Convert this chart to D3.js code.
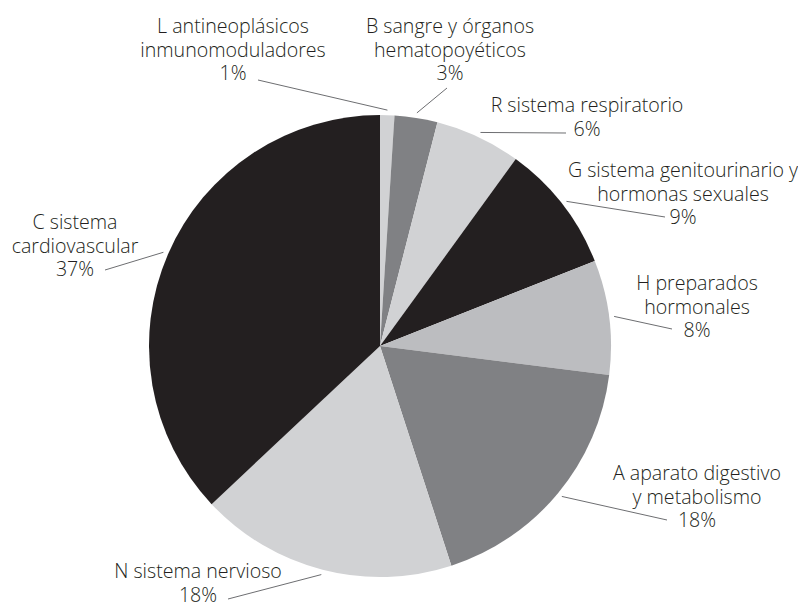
<!DOCTYPE html>
<html>
<head>
<meta charset="utf-8">
<script src="https://cdn.jsdelivr.net/npm/d3@7"></script>
<style>
body{margin:0;background:#fff;}
text{font-family:"Open Sans","Noto Sans",sans-serif;font-weight:300;}
</style>
</head>
<body>
<div id="chart"></div>
<script>
// datos
var codes=["L","B","R","G","H","A","N","C"];
var names=[
 ["L antineoplásicos","inmunomoduladores"],
 ["B sangre y órganos","hematopoyéticos"],
 ["R sistema respiratorio"],
 ["G sistema genitourinario y","hormonas sexuales"],
 ["H preparados","hormonales"],
 ["A aparato digestivo","y metabolismo"],
 ["N sistema nervioso"],
 ["C sistema","cardiovascular"]
];
var values=[1,3,6,9,8,18,18,37];
var colors=["#d1d2d4","#808184","#d1d2d4","#231f20","#bcbdc0","#808184","#d1d2d4","#231f20"];

var width=798,height=606;
var cx=380,cy=346,radius=231;

// donde va cada etiqueta (centro x, baseline primera linea) y fin de la linea guia
var labelAt=[[233,33],[450,33],[587,112],[683,177],[697,290],[697,480],[198,578],[75,229]];
var leaderEnd=[[258,80],[447,88],[566,133],[665,217],[672,329],[667,520],[228,599],[105,270]];
var lineH=23.6;

var svg=d3.select("#chart").append("svg").attr("width",width).attr("height",height);
var g=svg.append("g").attr("transform","translate("+cx+","+cy+")");

var pie=d3.pie().sort(null).value(d=>d);
var arcs=pie(values);
var arc=d3.arc().innerRadius(0).outerRadius(radius);
var outer=d3.arc().innerRadius(radius+5).outerRadius(radius+5);

g.selectAll("path").data(arcs).enter().append("path")
.attr("d",arc)
.attr("fill",(d,i)=>colors[i]);

// lineas guia
g.selectAll("line").data(arcs).enter().append("line")
.attr("x1",d=>outer.centroid(d)[0])
.attr("y1",d=>outer.centroid(d)[1])
.attr("x2",(d,i)=>leaderEnd[i][0]-cx)
.attr("y2",(d,i)=>leaderEnd[i][1]-cy)
.attr("stroke","#6d6e71")
.attr("stroke-width",1);

// etiquetas
var labels=svg.selectAll("text.lab").data(codes).enter().append("text")
.attr("class","lab")
.attr("text-anchor","middle")
.attr("font-size","19.6px")
.attr("fill","#231f20");

labels.each(function(d,i){
 var t=d3.select(this);
 var lines=names[i].concat([values[i]+"%"]);
 lines.forEach(function(s,j){
  t.append("tspan").attr("x",labelAt[i][0]).attr("y",labelAt[i][1]+j*lineH).text(s);
 });
});
</script>
</body>
</html>
